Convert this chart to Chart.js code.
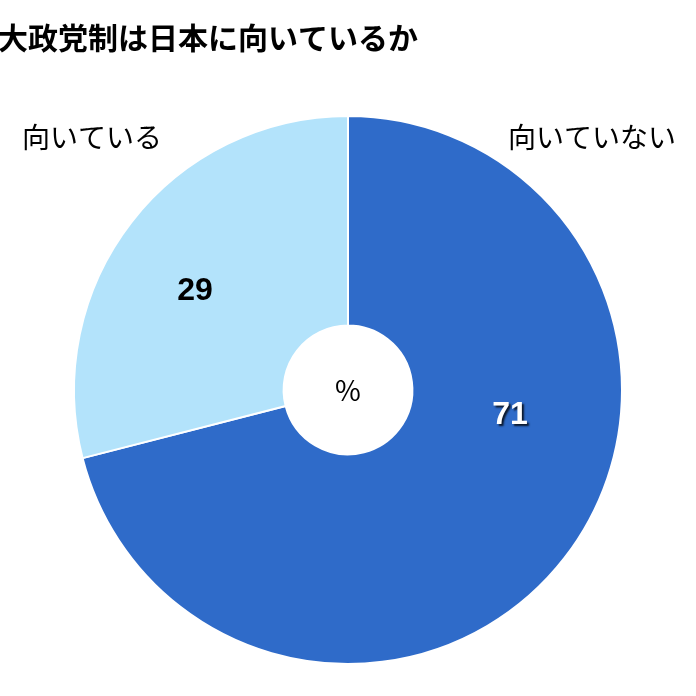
<!DOCTYPE html>
<html><head><meta charset="utf-8">
<script src="https://cdn.jsdelivr.net/npm/chart.js@4"></script>
<style>html,body{margin:0;padding:0;background:#fff}</style>
</head><body>
<canvas id="c" width="696" height="696"></canvas>
<script>
const categories = ['向いていない', '向いている'];
const values = [71, 29];
const colors = ['#2f6bc9', '#b3e3fb'];
const title = '大政党制は日本に向いているか';
const font = '"Noto Sans CJK JP", "Noto Sans", sans-serif';

const labelsPlugin = {
  id: 'labels',
  afterDraw(chart) {
    const ctx = chart.ctx;
    ctx.save();
    ctx.textBaseline = 'middle';
    ctx.fillStyle = '#000';
    ctx.font = 'bold 30px ' + font;
    ctx.textAlign = 'left';
    ctx.fillText(title, -2, 38);
    ctx.font = '28px ' + font;
    ctx.fillText(categories[1], 22, 137);
    ctx.fillText(categories[0], 508, 137);
    ctx.textAlign = 'center';
    ctx.fillText('%', 348, 390);
    ctx.font = 'bold 32px "Liberation Sans", Arial, sans-serif';
    ctx.fillText(String(values[1]), 195, 291);
    ctx.shadowColor = 'rgba(0,0,0,0.8)';
    ctx.shadowOffsetX = 2; ctx.shadowOffsetY = 2; ctx.shadowBlur = 2;
    ctx.fillStyle = '#fff';
    ctx.fillText(String(values[0]), 510, 415);
    ctx.restore();
  }
};

new Chart(document.getElementById('c'), {
  type: 'doughnut',
  data: { labels: categories, datasets: [{ data: values, backgroundColor: colors, borderColor: '#fff', borderWidth: 2 }] },
  options: {
    responsive: false, animation: false, cutout: '23.5%',
    layout: { padding: { top: 115, bottom: 31, left: 73, right: 73 } },
    plugins: { legend: { display: false }, tooltip: { enabled: false } }
  },
  plugins: [labelsPlugin]
});
</script>
</body></html>
